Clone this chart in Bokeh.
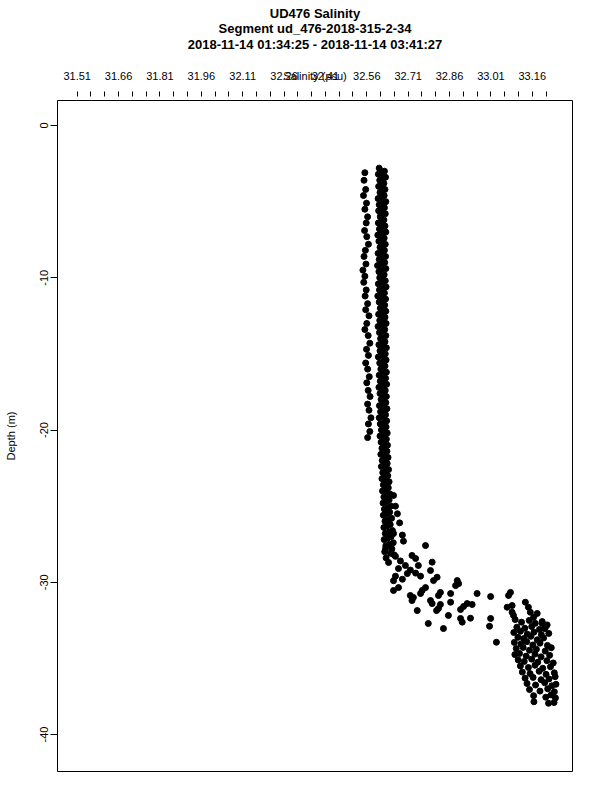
from bokeh.plotting import figure
from bokeh.models import ColumnDataSource, Range1d, FixedTicker, CustomJSTickFormatter, Title
from bokeh.embed import file_html
from bokeh.resources import INLINE

# ---------------- text ----------------
title_lines = [
    "UD476 Salinity",
    "Segment ud_476-2018-315-2-34",
    "2018-11-14 01:34:25 - 2018-11-14 03:41:27",
]
x_label = "Salinity (psu)"
y_label = "Depth (m)"

# ---------------- axes ----------------
x_ticks = [31.51, 31.56, 31.61, 31.66, 31.71, 31.76, 31.81, 31.86, 31.91, 31.96,
           32.01, 32.06, 32.11, 32.16, 32.21, 32.26, 32.31, 32.36, 32.41, 32.46,
           32.51, 32.56, 32.61, 32.66, 32.71, 32.76, 32.81, 32.86, 32.91, 32.96,
           33.01, 33.06, 33.11, 33.16, 33.21]
x_tick_labels = ["31.51", "", "", "31.66", "", "", "31.81", "", "", "31.96",
                 "", "", "32.11", "", "", "32.26", "", "", "32.41", "",
                 "", "32.56", "", "", "32.71", "", "", "32.86", "", "",
                 "33.01", "", "", "33.16", ""]
y_ticks = [0, -10, -20, -30, -40]
y_tick_labels = ["0", "-10", "-20", "-30", "-40"]
x_limits = [31.4386, 33.3059]
y_limits = [-42.43, 1.642]

# ---------------- data ----------------
# upper mixed layer, fresher left track
left_depth = [-3.1, -3.6, -4.2, -4.6, -5.1, -5.5, -6.0, -6.4, -6.9, -7.3,
              -7.8, -8.2, -8.6, -9.1, -9.5, -9.9, -10.3, -10.8, -11.2, -11.7,
              -12.1, -12.5, -13.0, -13.4, -13.8, -14.3, -14.7, -15.1, -15.6, -16.0,
              -16.5, -16.9, -17.4, -17.8, -18.3, -18.7, -19.2, -19.6, -20.1, -20.5]
left_sal = [32.553, 32.550, 32.556, 32.548, 32.559, 32.553, 32.563, 32.558, 32.552, 32.560,
            32.566, 32.555, 32.550, 32.557, 32.546, 32.553, 32.549, 32.558, 32.554, 32.563,
            32.556, 32.568, 32.560, 32.553, 32.565, 32.571, 32.559, 32.566, 32.556, 32.563,
            32.569, 32.560, 32.565, 32.572, 32.563, 32.568, 32.575, 32.566, 32.571, 32.563]

# upper mixed layer, main column (three interleaved casts)
col1_depth = [-2.8, -3.2, -3.6, -4.0, -4.4, -4.8, -5.2, -5.6, -6.0, -6.4,
              -6.8, -7.2, -7.6, -8.0, -8.4, -8.8, -9.2, -9.6, -10.0, -10.4,
              -10.8, -11.2, -11.6, -12.0, -12.4, -12.8, -13.2, -13.6, -14.0, -14.4,
              -14.8, -15.2, -15.6, -16.0, -16.4, -16.8, -17.2, -17.6, -18.0, -18.4,
              -18.8, -19.2, -19.6, -20.0, -20.4, -20.8, -21.2, -21.6, -22.0, -22.4,
              -22.8, -23.2, -23.6, -24.0, -24.4, -24.8, -25.2, -25.6, -26.0, -26.4,
              -26.8, -27.2, -27.6, -28.0, -28.4]
col1_sal = [32.605, 32.602, 32.607, 32.603, 32.608, 32.601, 32.605, 32.603, 32.609, 32.602,
            32.606, 32.600, 32.604, 32.608, 32.601, 32.605, 32.599, 32.604, 32.607, 32.602,
            32.606, 32.600, 32.605, 32.609, 32.603, 32.607, 32.601, 32.606, 32.610, 32.604,
            32.608, 32.602, 32.607, 32.611, 32.605, 32.609, 32.604, 32.608, 32.612, 32.606,
            32.610, 32.605, 32.609, 32.613, 32.608, 32.612, 32.615, 32.611, 32.616, 32.613,
            32.618, 32.615, 32.620, 32.617, 32.622, 32.619, 32.624, 32.620, 32.626, 32.622,
            32.627, 32.623, 32.629, 32.625, 32.630]
col2_depth = [-3.0, -3.4, -3.8, -4.2, -4.6, -5.0, -5.4, -5.8, -6.2, -6.6,
              -7.0, -7.4, -7.8, -8.2, -8.6, -9.0, -9.4, -9.8, -10.2, -10.6,
              -11.0, -11.4, -11.8, -12.2, -12.6, -13.0, -13.4, -13.8, -14.2, -14.6,
              -15.0, -15.4, -15.8, -16.2, -16.6, -17.0, -17.4, -17.8, -18.2, -18.6,
              -19.0, -19.4, -19.8, -20.2, -20.6, -21.0, -21.4, -21.8, -22.2, -22.6,
              -23.0, -23.4, -23.8, -24.2, -24.6, -25.0, -25.4, -25.8, -26.2, -26.6,
              -27.0, -27.4, -27.8, -28.2]
col2_sal = [32.624, 32.628, 32.622, 32.626, 32.623, 32.629, 32.624, 32.627, 32.622, 32.626,
            32.629, 32.623, 32.627, 32.624, 32.628, 32.625, 32.629, 32.623, 32.627, 32.630,
            32.624, 32.628, 32.625, 32.629, 32.626, 32.630, 32.625, 32.629, 32.626, 32.631,
            32.627, 32.630, 32.626, 32.631, 32.628, 32.632, 32.627, 32.631, 32.629, 32.633,
            32.628, 32.632, 32.630, 32.634, 32.631, 32.635, 32.633, 32.637, 32.634, 32.639,
            32.636, 32.641, 32.638, 32.644, 32.641, 32.647, 32.643, 32.650, 32.645, 32.653,
            32.648, 32.656, 32.651, 32.659]
col3_depth = [-3.1, -3.5, -3.9, -4.3, -4.7, -5.1, -5.5, -5.9, -6.3, -6.7,
              -7.1, -7.5, -7.9, -8.3, -8.7, -9.1, -9.5, -9.9, -10.3, -10.7,
              -11.1, -11.5, -11.9, -12.3, -12.7, -13.1, -13.5, -13.9, -14.3, -14.7,
              -15.1, -15.5, -15.9, -16.3, -16.7, -17.1, -17.5, -17.9, -18.3, -18.7,
              -19.1, -19.5, -19.9, -20.3, -20.7, -21.1, -21.5, -21.9, -22.3, -22.7,
              -23.1, -23.5, -23.9, -24.3, -24.7, -25.1, -25.5, -25.9, -26.3, -26.7,
              -27.1, -27.5]
col3_sal = [32.614, 32.617, 32.612, 32.616, 32.613, 32.618, 32.614, 32.611, 32.616, 32.613,
            32.617, 32.612, 32.615, 32.618, 32.613, 32.616, 32.612, 32.617, 32.614, 32.618,
            32.613, 32.616, 32.619, 32.614, 32.617, 32.613, 32.618, 32.615, 32.619, 32.614,
            32.617, 32.620, 32.615, 32.619, 32.616, 32.620, 32.617, 32.621, 32.618, 32.622,
            32.619, 32.623, 32.620, 32.624, 32.621, 32.625, 32.623, 32.627, 32.624, 32.629,
            32.626, 32.631, 32.628, 32.633, 32.630, 32.636, 32.632, 32.638, 32.634, 32.640,
            32.636, 32.642]

# base of the column, spreading out
base_depth = [-24.3, -25.0, -25.5, -26.1, -26.8, -26.9, -27.3, -27.8, -28.1, -28.3,
              -28.6, -28.7, -28.9, -29.1, -29.2, -29.6, -29.4, -29.8, -29.6, -29.9, -28.9]
base_sal = [32.657, 32.664, 32.671, 32.679, 32.657, 32.689, 32.693, 32.628, 32.646, 32.664,
            32.682, 32.639, 32.700, 32.675, 32.718, 32.664, 32.737, 32.689, 32.755, 32.657, 32.747]

# halocline
cline_depth = [-27.59, -28.24, -28.44, -28.68, -29.23, -29.43, -29.67, -29.89, -29.89, -30.09,
               -30.22, -30.35, -30.54, -30.74, -30.67, -30.87, -30.54, -30.35, -30.87, -31.00,
               -31.20, -30.74, -30.74, -30.94, -30.67, -30.87, -31.20, -31.40, -31.46, -31.31,
               -31.40, -31.59, -31.79, -31.46, -31.86, -31.86, -31.72, -32.18, -32.38, -32.62,
               -32.36, -32.71, -33.04, -32.38, -32.89, -33.94]
cline_sal = [32.773, 32.724, 32.737, 32.797, 32.791, 32.707, 32.815, 32.802, 32.888, 32.893,
             32.882, 32.773, 32.761, 32.755, 32.827, 32.820, 32.657, 32.675, 32.718, 32.729,
             32.724, 32.864, 32.960, 33.009, 33.081, 33.074, 32.791, 32.797, 32.827, 32.864,
             32.924, 32.911, 32.900, 32.942, 32.743, 32.813, 32.820, 32.856, 32.900, 32.906,
             32.936, 32.783, 32.838, 33.009, 33.005, 33.030]

# bottom layer
deep_depth = [-31.64, -31.53, -31.97, -32.18, -31.31, -31.64, -31.97, -32.30, -32.05, -32.71, -32.95,
              -32.45, -32.62, -32.51, -32.70, -32.58, -32.80,
              -32.95, -33.02, -32.91, -33.10, -33.05,
              -33.30, -33.22, -33.41, -33.28, -33.45, -33.36,
              -33.62, -33.70, -33.55, -33.78, -33.66,
              -33.95, -34.05, -33.90, -34.12, -34.00, -34.15,
              -34.35, -34.28, -34.46, -34.40, -34.52, -34.30,
              -34.75, -34.68, -34.85, -34.72, -34.90, -34.80,
              -35.10, -35.20, -35.05, -35.25, -35.15, -35.30,
              -35.50, -35.60, -35.45, -35.65, -35.55,
              -35.90, -36.00, -35.85, -36.05, -35.95,
              -36.30, -36.25, -36.40, -36.35, -36.20,
              -36.65, -36.75, -36.60, -36.80, -36.70,
              -37.05, -37.15, -37.00, -37.20,
              -37.45, -37.55, -37.40, -37.60,
              -37.85, -37.95, -37.90]
deep_sal = [33.069, 33.087, 33.087, 33.092, 33.135, 33.146, 33.153, 33.165, 33.178, 33.196, 33.208,
            33.098, 33.121, 33.149, 33.171, 33.196, 33.214,
            33.104, 33.133, 33.158, 33.186, 33.205,
            33.093, 33.117, 33.142, 33.166, 33.193, 33.220,
            33.108, 33.129, 33.155, 33.178, 33.201,
            33.095, 33.119, 33.140, 33.162, 33.188, 33.215,
            33.102, 33.127, 33.150, 33.175, 33.207, 33.229,
            33.097, 33.114, 33.138, 33.170, 33.192, 33.223,
            33.109, 33.131, 33.158, 33.180, 33.213, 33.236,
            33.117, 33.146, 33.170, 33.198, 33.226,
            33.124, 33.152, 33.185, 33.210, 33.240,
            33.134, 33.163, 33.192, 33.221, 33.243,
            33.141, 33.172, 33.205, 33.231, 33.246,
            33.150, 33.188, 33.216, 33.240,
            33.165, 33.209, 33.228, 33.244,
            33.166, 33.219, 33.239]

depth = left_depth + col1_depth + col2_depth + col3_depth + base_depth + cline_depth + deep_depth
salinity = left_sal + col1_sal + col2_sal + col3_sal + base_sal + cline_sal + deep_sal
source = ColumnDataSource(data=dict(salinity=salinity, depth=depth))

# ---------------- figure ----------------
FONT = "Liberation Sans"
W, H = 592, 792
BL, BR, BT, BB = 57, 20, 100, 21

p = figure(width=W, height=H, output_backend="svg", toolbar_location=None, title=None,
           x_range=Range1d(*x_limits), y_range=Range1d(*y_limits),
           x_axis_location="above",
           min_border_left=BL, min_border_right=BR, min_border_top=BT, min_border_bottom=BB)
p.background_fill_color = "white"
p.border_fill_color = "white"
p.outline_line_color = "black"
p.outline_line_width = 1
p.outline_line_alpha = 1
p.xgrid.visible = False
p.ygrid.visible = False

fmt_code = """
for (let i = 0; i < tvals.length; i++) {
  if (Math.abs(tick - tvals[i]) < 1e-6) { return tlabels[i]; }
}
return "";
"""

xa = p.xaxis[0]
xa.ticker = FixedTicker(ticks=x_ticks, minor_ticks=[])
xa.formatter = CustomJSTickFormatter(args=dict(tvals=x_ticks, tlabels=x_tick_labels), code=fmt_code)
xa.axis_line_color = None
xa.major_tick_in = -4
xa.major_tick_out = 9
xa.minor_tick_in = 0
xa.minor_tick_out = 0
xa.major_tick_line_color = "black"
xa.major_label_standoff = 12
xa.major_label_text_font = FONT
xa.major_label_text_font_size = "11px"
xa.major_label_text_color = "black"
# axis title sits on the tick-label line, as in the original
xa.axis_label = x_label
xa.axis_label_standoff = -13
xa.axis_label_text_font = FONT
xa.axis_label_text_font_size = "11px"
xa.axis_label_text_font_style = "normal"
xa.axis_label_text_color = "black"

ya = p.yaxis[0]
ya.ticker = FixedTicker(ticks=y_ticks, minor_ticks=[])
ya.formatter = CustomJSTickFormatter(args=dict(tvals=y_ticks, tlabels=y_tick_labels), code=fmt_code)
ya.axis_line_color = None
ya.major_tick_in = 0
ya.major_tick_out = 7
ya.minor_tick_in = 0
ya.minor_tick_out = 0
ya.major_tick_line_color = "black"
ya.major_label_standoff = 2
ya.major_label_orientation = "vertical"
ya.major_label_text_font = FONT
ya.major_label_text_font_size = "11px"
ya.major_label_text_color = "black"
ya.axis_label = y_label
ya.axis_label_standoff = 21
ya.axis_label_text_font = FONT
ya.axis_label_text_font_size = "11px"
ya.axis_label_text_font_style = "normal"
ya.axis_label_text_color = "black"

p.scatter(x="salinity", y="depth", source=source, size=6, marker="circle",
          fill_color="black", line_color="black", line_width=1)

# spacer between the axis and the title block
p.add_layout(Title(text=" ", text_font_size="1px", standoff=12), "above")
# title lines: first added sits nearest the plot
for txt, so in zip(reversed(title_lines), [0, -2, -2]):
    p.add_layout(Title(text=txt, align="center", standoff=so,
                       text_font=FONT, text_font_style="bold", text_font_size="13px",
                       text_color="black"), "above")

open("out.html", "w").write(file_html(p, INLINE))
